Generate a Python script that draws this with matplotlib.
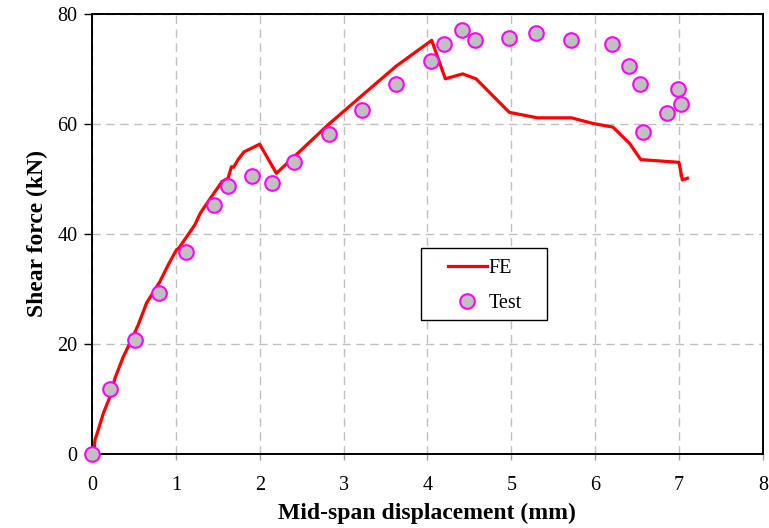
import numpy as np
import matplotlib.pyplot as plt
from matplotlib.patches import Rectangle

# FE load-displacement curve (mm, kN)
fe_disp = [0.015, 0.036, 0.075, 0.135, 0.214, 0.274, 0.373, 0.452, 0.551, 0.651,
           0.81, 0.908, 1.008, 1.036, 1.226, 1.294, 1.405, 1.551, 1.623, 1.663,
           1.69, 1.742, 1.813, 2.0, 2.199, 2.813, 3.23, 3.627, 4.051, 4.214,
           4.42, 4.58, 4.976, 5.313, 5.718, 5.968, 6.214, 6.413, 6.544, 7.0,
           7.04, 7.1]
fe_force = [-1.2, 2.5, 4.3, 7.3, 10.3, 13.7, 17.6, 20.1, 23.4, 27.4,
            31.3, 34.3, 37.1, 37.4, 41.6, 43.8, 46.3, 49.5, 50.1, 52.2,
            52.1, 53.5, 54.9, 56.3, 51.0, 59.8, 65.3, 70.5, 75.2, 68.2,
            69.1, 68.2, 62.1, 61.1, 61.1, 60.1, 59.4, 56.4, 53.5, 53.0,
            49.8, 50.1]

# measured test points
test_disp = [0.0, 0.218, 0.515, 0.80, 1.127, 1.456, 1.623, 1.908, 2.151, 2.405,
             2.825, 3.218, 3.627, 4.04, 4.20, 4.408, 4.568, 4.973, 5.298, 5.718,
             6.206, 6.405, 6.536, 6.571, 6.86, 6.988, 7.027]
test_force = [0.0, 11.7, 20.6, 29.2, 36.6, 45.3, 48.7, 50.6, 49.3, 53.0,
              58.1, 62.5, 67.2, 71.4, 74.5, 77.0, 75.3, 75.6, 76.6, 75.3,
              74.5, 70.6, 67.2, 58.6, 62.0, 66.4, 63.6]

plt.rcParams['font.family'] = ['Liberation Serif', 'DejaVu Serif']

fig = plt.figure(figsize=(7.69, 5.28), dpi=100)
ax = fig.add_axes([0.1196, 0.141, 0.8724, 0.8325])

ax.plot(fe_disp, fe_force, color='red', lw=2.3, label='FE', clip_on=False, zorder=3)
ax.plot(test_disp, test_force, ls='none', marker='o', ms=10.5, mfc='#c0c0c0',
        mec='#ff00ff', mew=1.5, label='Test', clip_on=False, zorder=4)

ax.set_xlim(0, 8)
ax.set_ylim(0, 80)
ax.set_xticks(np.arange(0, 9, 1))
ax.set_yticks(np.arange(0, 81, 20))
ax.grid(True, color='#c0c0c0', ls=(0, (6, 4)), lw=1.0)
ax.set_axisbelow(True)

for s in ax.spines.values():
    s.set_linewidth(1.4)
    s.set_color('black')

ax.tick_params(axis='both', direction='out', labelsize=14.5, width=1)
ax.tick_params(axis='x', color='#a0a0a0', length=4.5, pad=12)
ax.tick_params(axis='y', length=5.5, pad=5)

ax.set_xlabel('Mid-span displacement (mm)', fontsize=17, fontweight='bold', labelpad=5)
ax.set_ylabel('Shear force (kN)', fontsize=17, fontweight='bold', labelpad=7)

# legend box drawn separately so the padding can be wider on the left
ax.add_patch(Rectangle((0.49, 0.304), 0.188, 0.164, transform=ax.transAxes,
                       facecolor='white', edgecolor='black', lw=1.0, zorder=5))
leg = ax.legend(loc='upper left', bbox_to_anchor=(0.530, 0.4436), fontsize=14.5,
                frameon=False, handlelength=1.95, borderpad=0, borderaxespad=0,
                labelspacing=0.8, handletextpad=0.1)
leg.set_zorder(6)

fig.savefig('out.png', dpi=100)
